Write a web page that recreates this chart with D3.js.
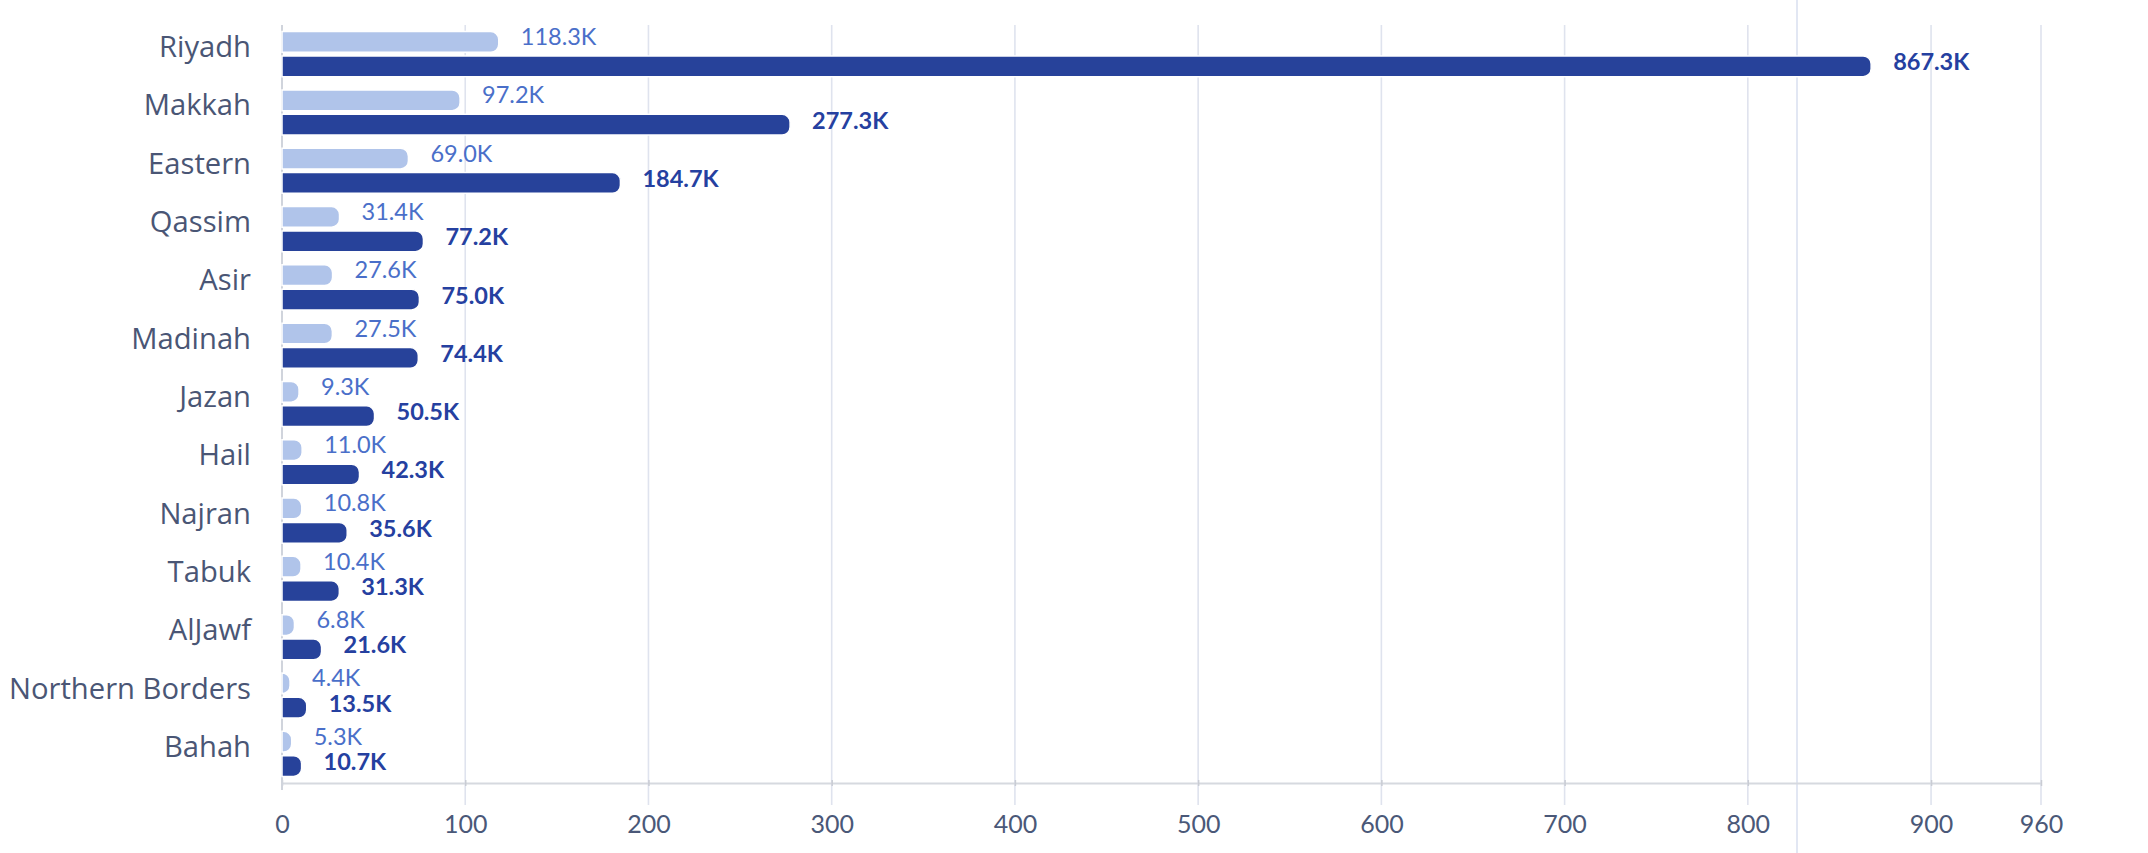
<!DOCTYPE html>
<html>
<head>
<meta charset="utf-8">
<script src="https://cdn.jsdelivr.net/npm/d3@7"></script>
<style>
  html, body { margin: 0; padding: 0; background: #ffffff; }
  svg { display: block; font-family: Lato, "Open Sans", sans-serif; }
</style>
</head>
<body>
<svg id="chart" width="2148" height="853"></svg>
<script>
const categories = ["Riyadh", "Makkah", "Eastern", "Qassim", "Asir", "Madinah", "Jazan", "Hail", "Najran", "Tabuk", "AlJawf", "Northern Borders", "Bahah"];
const seriesLight = [118.3, 97.2, 69.0, 31.4, 27.6, 27.5, 9.3, 11.0, 10.8, 10.4, 6.8, 4.4, 5.3];
const seriesDark = [867.3, 277.3, 184.7, 77.2, 75.0, 74.4, 50.5, 42.3, 35.6, 31.3, 21.6, 13.5, 10.7];
const tickValues = [0, 100, 200, 300, 400, 500, 600, 700, 800, 900, 960];

const svg = d3.select("#chart");
const x = d3.scaleLinear().domain([0, 960]).range([282, 2041]);
const y = d3.scaleBand().domain(categories).range([25, 783]);
const sub = d3.scaleBand().domain(["light", "dark"]).range([0, y.bandwidth()]).paddingInner(0.15).paddingOuter(0.27);

// stray crosshair line
svg.append("line").attr("x1", 1797).attr("x2", 1797).attr("y1", 0).attr("y2", 853)
  .attr("stroke", "#e2e7f3").attr("stroke-width", 2);

// gridlines
svg.append("g").selectAll("line").data(tickValues.slice(1)).join("line")
  .attr("x1", d => x(d)).attr("x2", d => x(d))
  .attr("y1", 25).attr("y2", 805)
  .attr("stroke", "#dfe3ee").attr("stroke-width", 1.6);

// bottom axis
const xAxis = d3.axisBottom(x).tickValues(tickValues).tickSize(0).tickPadding(0).tickFormat(d3.format("d"));
const gx = svg.append("g").attr("transform", "translate(0,783)").call(xAxis);
gx.select(".domain").attr("stroke", "#d6d9df").attr("stroke-width", 2);
gx.selectAll(".tick text").attr("y", 50).attr("dy", null)
  .attr("fill", "#4a5878").attr("font-size", 25).attr("font-family", "Lato, sans-serif");
gx.selectAll(".tick").append("line").attr("y1", -3).attr("y2", 3).attr("stroke", "#c9ccd4").attr("stroke-width", 1.5);

// left axis line
svg.append("line").attr("x1", x(0)).attr("x2", x(0)).attr("y1", 25).attr("y2", 790)
  .attr("stroke", "#d0d4dc").attr("stroke-width", 2);

// category labels
svg.append("g").selectAll("text").data(categories).join("text")
  .attr("x", 251)
  .attr("y", d => y(d) + y.bandwidth() / 2 + 3)
  .attr("text-anchor", "end")
  .attr("fill", "#4a5675")
  .attr("font-family", "'Open Sans', sans-serif")
  .attr("font-size", 29.2)
  .text(d => d);

function barPath(x0, x1, yy, h, r) {
  const w = Math.max(0, x1 - x0);
  const rr = Math.min(r, w, h / 2);
  return `M${x0},${yy}H${x1 - rr}A${rr},${rr} 0 0 1 ${x1},${yy + rr}V${yy + h - rr}A${rr},${rr} 0 0 1 ${x1 - rr},${yy + h}H${x0}Z`;
}

const rows = categories.map((c, i) => ({ c, light: seriesLight[i], dark: seriesDark[i] }));
const groups = svg.append("g").selectAll("g").data(rows).join("g")
  .attr("transform", d => `translate(0,${y(d.c)})`);

groups.append("path")
  .attr("d", d => barPath(x(0), x(d.light), sub("light"), sub.bandwidth(), 8))
  .attr("fill", "#b0c4ea").attr("stroke", "#ffffff").attr("stroke-width", 1.5);
groups.append("path")
  .attr("d", d => barPath(x(0), x(d.dark), sub("dark"), sub.bandwidth(), 8))
  .attr("fill", "#27429a").attr("stroke", "#ffffff").attr("stroke-width", 1.5);

groups.append("text")
  .attr("x", d => x(d.light) + 22)
  .attr("y", sub("light") + sub.bandwidth() / 2 + 3)
  .attr("fill", "#4a6fc9").attr("font-size", 23.5)
  .text(d => d3.format(".1f")(d.light) + "K");
groups.append("text")
  .attr("x", d => x(d.dark) + 22)
  .attr("y", sub("dark") + sub.bandwidth() / 2 + 4)
  .attr("fill", "#2540a0").attr("font-size", 23.5).attr("font-weight", 700)
  .text(d => d3.format(".1f")(d.dark) + "K");
</script>
</body>
</html>
